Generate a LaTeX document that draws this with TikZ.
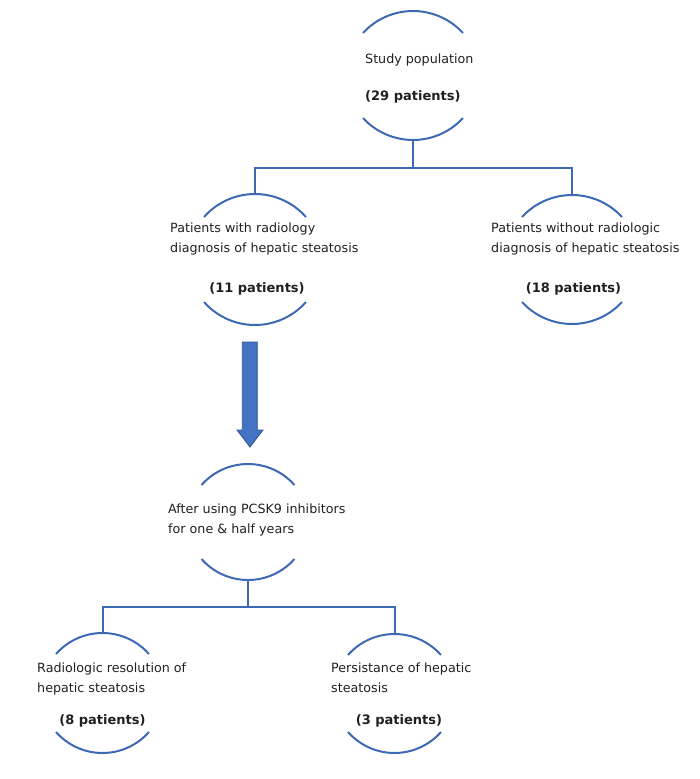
\documentclass[tikz,border=0pt]{standalone}
\usepackage{fontspec}
\setmainfont{DejaVu Sans}
\definecolor{lineblue}{HTML}{3D69B4}
\definecolor{arrowfill}{HTML}{4472C4}
\definecolor{arrowedge}{HTML}{2F528F}
\definecolor{txt}{HTML}{231F20}
\newcommand\arcpair[6]{% name, cx, ytop-ends, ybot-ends, halfwidth, sagitta
  \pgfmathsetmacro\myR{(#5*#5+#6*#6)/(2*#6)}
  \pgfmathsetmacro\myth{asin(#5/\myR)}
  \draw[arcline] ({#2-#5},#3) arc[start angle={90+\myth}, end angle={90-\myth}, radius=\myR pt];
  \draw[arcline] ({#2-#5},#4) arc[start angle={270-\myth}, end angle={270+\myth}, radius=\myR pt];
  \coordinate (#1top) at (#2,{#3-#6});
  \coordinate (#1bot) at (#2,{#4+#6});
}
\begin{document}
\begin{tikzpicture}[x=1pt,y=-1pt,
  arcline/.style={draw=lineblue,line width=2pt},
  conn/.style={draw=lineblue,line width=2pt},
  reg/.style={anchor=base west,inner sep=0pt,text=txt,font=\fontsize{12.7}{15}\selectfont},
  boldlbl/.style={anchor=base,inner sep=0pt,text=txt,font=\fontsize{13}{15}\selectfont\bfseries}]
\useasboundingbox (0,0) rectangle (700,779);
% arcs
\arcpair{n1}{413}{33}{118}{50}{22}
\arcpair{n2}{255}{217}{302}{51}{23}
\arcpair{n3}{572}{217}{302}{50}{22}
\arcpair{n4}{248}{485}{559}{46.5}{21}
\arcpair{n5}{102.5}{654}{732}{46.5}{21}
\arcpair{n6}{394.5}{655}{732}{46.5}{21}
% texts
\node[reg] (t1a) at (365,63) {Study population};
\node[reg,anchor=base west,font=\fontsize{13}{15}\selectfont\bfseries] (t1b) at (365,100) {(29 patients)};
\node[reg] (t2a) at (170,232) {Patients with radiology};
\node[reg] (t2b) at (170,252) {diagnosis of hepatic steatosis};
\node[boldlbl] (t2c) at (257,292) {(11 patients)};
\node[reg] (t3a) at (491,232) {Patients without radiologic};
\node[reg] (t3b) at (491,252) {diagnosis of hepatic steatosis};
\node[boldlbl] (t3c) at (573.5,292) {(18 patients)};
\node[reg] (t4a) at (168,513) {After using PCSK9 inhibitors};
\node[reg] (t4b) at (168,533) {for one \& half years};
\node[reg] (t5a) at (37,672) {Radiologic resolution of};
\node[reg] (t5b) at (37,692) {hepatic steatosis};
\node[boldlbl] (t5c) at (102.5,724) {(8 patients)};
\node[reg] (t6a) at (331,672) {Persistance of hepatic};
\node[reg] (t6b) at (331,692) {steatosis};
\node[boldlbl] (t6c) at (399,724) {(3 patients)};
% connectors
\coordinate (j1) at (413,168);
\coordinate (j2) at (248,607);
\draw[conn] (n1bot) -- (j1);
\draw[conn] (n2top) |- (j1) -| (n3top);
\draw[conn] (n4bot) -- (j2);
\draw[conn] (n5top) |- (j2) -| (n6top);
% block arrow
\draw[fill=arrowfill,draw=arrowedge,line width=0.8pt,line join=miter]
  (242.3,342) -- (257.3,342) -- (257.3,430) -- (263,430) -- (250,447)
  -- (237,430) -- (242.3,430) -- cycle;
\end{tikzpicture}
\end{document}
